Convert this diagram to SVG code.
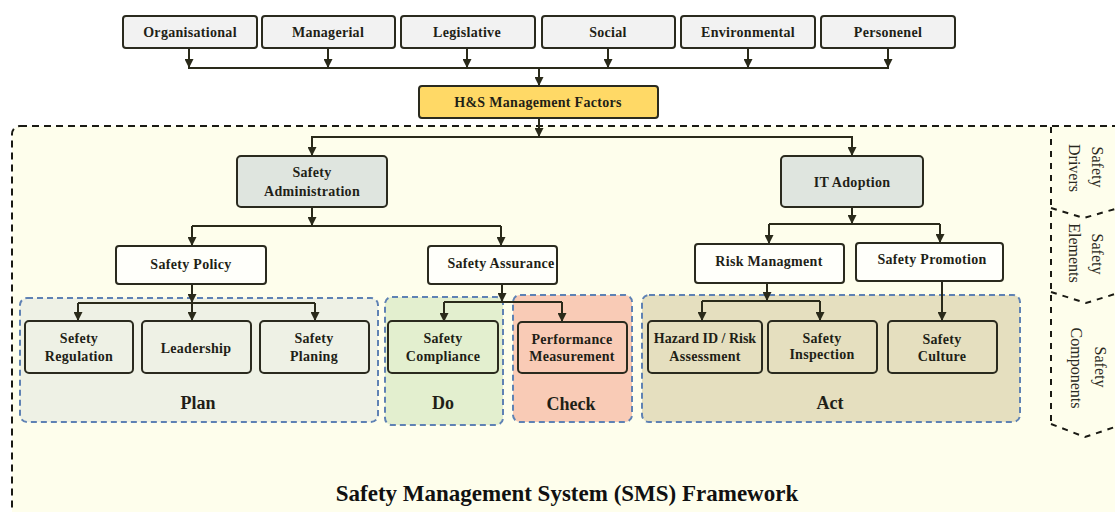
<svg xmlns="http://www.w3.org/2000/svg" width="1115" height="512" viewBox="0 0 1115 512">
  <style>
    .t { font-family: "Liberation Serif", "Times New Roman", serif; font-weight: bold; font-size: 14px; fill: #1f1f17; text-anchor: middle; letter-spacing: 0.3px; }
    .grp { font-family: "Liberation Serif", "Times New Roman", serif; font-weight: bold; font-size: 18px; fill: #1f1f17; text-anchor: middle; }
    .side { font-family: "Liberation Serif", "Times New Roman", serif; font-size: 16px; fill: #2a2a22; text-anchor: middle; }
    .title { font-family: "Liberation Serif", "Times New Roman", serif; font-weight: bold; font-size: 23px; fill: #111; text-anchor: middle; }
    .box { stroke: #2a2a1e; stroke-width: 2; }
    .factor { fill: #f2f2f2; }
    .gold { fill: #ffd966; }
    .grey { fill: #dfe5df; }
    .white { fill: #fffffa; }
    .plan { fill: #eef1e5; }
    .do { fill: #e3efcf; }
    .check { fill: #f9cbb6; }
    .act { fill: #e5dfbf; }
    .zone { stroke: #5f82b4; stroke-width: 2; stroke-dasharray: 6 4; }
    .frame { fill: #fefeec; stroke: #1a1a14; stroke-width: 2; stroke-dasharray: 7 5; }
    .sidel { fill: none; stroke: #1a1a14; stroke-width: 2; stroke-dasharray: 6 6; }
    .wire { fill: none; stroke: #2a2a1a; stroke-width: 2; }
    .arr { fill: none; stroke: #2a2a1a; stroke-width: 2; marker-end: url(#head); }
  </style>
  <defs>
    <marker id="head" viewBox="0 0 10 10" refX="10" refY="5" markerWidth="9" markerHeight="9" markerUnits="userSpaceOnUse" orient="auto">
      <path d="M0,0 L10,5 L0,10 z" fill="#2a2a1a"/>
    </marker>
  </defs>

  <rect width="1115" height="512" fill="#ffffff"/>

  <!-- SMS framework frame -->
  <rect class="frame" x="12" y="126" width="1200" height="500" rx="8"/>

  <!-- side band of chevrons -->
  <g id="side-band">
    <line class="sidel" x1="1051" y1="127" x2="1051" y2="424"/>
    <polyline class="sidel" points="1051,208 1084,218 1115,209"/>
    <polyline class="sidel" points="1051,292 1086,303 1115,294"/>
    <polyline class="sidel" points="1051,424 1085,437 1115,427"/>
    <text class="side" transform="translate(1092,167) rotate(90)">Safety</text>
    <text class="side" transform="translate(1069,168) rotate(90)">Drivers</text>
    <text class="side" transform="translate(1092,254) rotate(90)">Safety</text>
    <text class="side" transform="translate(1069,253) rotate(90)">Elements</text>
    <text class="side" transform="translate(1095,367) rotate(90)">Safety</text>
    <text class="side" transform="translate(1071,368) rotate(90)">Components</text>
  </g>

  <!-- PDCA zones -->
  <g id="zone-plan">
    <rect class="zone plan" x="20" y="298" width="358" height="124" rx="7"/>
    <text class="grp" x="198" y="409">Plan</text>
  </g>
  <g id="zone-do">
    <rect class="zone do" x="385" y="297" width="118" height="128" rx="7"/>
    <text class="grp" x="443" y="409">Do</text>
  </g>
  <g id="zone-check">
    <rect class="zone check" x="513" y="295" width="119" height="127" rx="7"/>
    <text class="grp" x="571" y="410">Check</text>
  </g>
  <g id="zone-act">
    <rect class="zone act" x="642" y="295" width="378" height="127" rx="7"/>
    <text class="grp" x="830" y="409">Act</text>
  </g>

  <!-- connectors -->
  <g id="connectors">
    <line class="arr" x1="189" y1="48" x2="189" y2="68"/>
    <line class="arr" x1="328" y1="48" x2="328" y2="68"/>
    <line class="arr" x1="467" y1="48" x2="467" y2="68"/>
    <line class="arr" x1="608" y1="48" x2="608" y2="68"/>
    <line class="arr" x1="748" y1="48" x2="748" y2="68"/>
    <line class="arr" x1="888" y1="48" x2="888" y2="68"/>
    <line class="wire" x1="188" y1="68" x2="889" y2="68"/>
    <line class="arr" x1="539" y1="68" x2="539" y2="86"/>

    <line class="arr" x1="539" y1="118" x2="539" y2="137"/>
    <polyline class="wire" points="312,156 312,137 852,137 852,156"/>
    <line class="arr" x1="312" y1="137" x2="312" y2="156"/>
    <line class="arr" x1="852" y1="137" x2="852" y2="156"/>

    <line class="arr" x1="312" y1="207" x2="312" y2="226"/>
    <line class="wire" x1="192" y1="226" x2="501" y2="226"/>
    <line class="arr" x1="192" y1="226" x2="192" y2="246"/>
    <line class="arr" x1="501" y1="226" x2="501" y2="246"/>

    <line class="arr" x1="852" y1="207" x2="852" y2="224"/>
    <line class="wire" x1="769" y1="224" x2="940" y2="224"/>
    <line class="arr" x1="769" y1="224" x2="769" y2="244"/>
    <line class="arr" x1="940" y1="224" x2="940" y2="243"/>

    <line class="arr" x1="192" y1="284" x2="192" y2="303"/>
    <line class="wire" x1="78" y1="303" x2="315" y2="303"/>
    <line class="arr" x1="78" y1="303" x2="78" y2="321"/>
    <line class="arr" x1="192" y1="303" x2="192" y2="321"/>
    <line class="arr" x1="315" y1="303" x2="315" y2="321"/>

    <line class="arr" x1="502" y1="284" x2="502" y2="302"/>
    <line class="wire" x1="444" y1="302" x2="562" y2="302"/>
    <line class="arr" x1="444" y1="302" x2="444" y2="322"/>
    <line class="arr" x1="562" y1="302" x2="562" y2="322"/>

    <line class="arr" x1="767" y1="283" x2="767" y2="301"/>
    <line class="wire" x1="702" y1="301" x2="820" y2="301"/>
    <line class="arr" x1="702" y1="301" x2="702" y2="321"/>
    <line class="arr" x1="820" y1="301" x2="820" y2="321"/>

    <line class="arr" x1="942" y1="281" x2="942" y2="321"/>
  </g>

  <!-- safety drivers -->
  <g id="n-organisational">
    <rect class="box factor" x="123" y="16" width="134" height="32" rx="3"/>
    <text class="t" x="190" y="37">Organisational</text>
  </g>
  <g id="n-managerial">
    <rect class="box factor" x="262" y="16" width="133" height="32" rx="3"/>
    <text class="t" x="328" y="37">Managerial</text>
  </g>
  <g id="n-legislative">
    <rect class="box factor" x="401" y="16" width="134" height="32" rx="3"/>
    <text class="t" x="467" y="37">Legislative</text>
  </g>
  <g id="n-social">
    <rect class="box factor" x="542" y="16" width="133" height="32" rx="3"/>
    <text class="t" x="608" y="37">Social</text>
  </g>
  <g id="n-environmental">
    <rect class="box factor" x="681" y="16" width="134" height="32" rx="3"/>
    <text class="t" x="748" y="37">Environmental</text>
  </g>
  <g id="n-personenel">
    <rect class="box factor" x="821" y="16" width="134" height="32" rx="3"/>
    <text class="t" x="888" y="37">Personenel</text>
  </g>

  <g id="n-hs-factors">
    <rect class="box gold" x="419" y="86" width="239" height="32" rx="3"/>
    <text class="t" x="538" y="107">H&amp;S Management Factors</text>
  </g>

  <!-- safety elements -->
  <g id="n-safety-administration">
    <rect class="box grey" x="237" y="156" width="150" height="51" rx="4"/>
    <text class="t" x="312" y="177">Safety</text>
    <text class="t" x="312" y="196">Administration</text>
  </g>
  <g id="n-it-adoption">
    <rect class="box grey" x="781" y="156" width="142" height="51" rx="4"/>
    <text class="t" x="852" y="187">IT Adoption</text>
  </g>
  <g id="n-safety-policy">
    <rect class="box white" x="116" y="246" width="150" height="38" rx="3"/>
    <text class="t" x="191" y="269">Safety Policy</text>
  </g>
  <g id="n-safety-assurance">
    <rect class="box white" x="428" y="246" width="129" height="38" rx="3"/>
    <text class="t" x="501" y="268">Safety Assurance</text>
  </g>
  <g id="n-risk-managment">
    <rect class="box white" x="695" y="244" width="149" height="39" rx="3"/>
    <text class="t" x="769" y="266">Risk Managment</text>
  </g>
  <g id="n-safety-promotion">
    <rect class="box white" x="856" y="243" width="147" height="38" rx="3"/>
    <text class="t" x="932" y="264">Safety Promotion</text>
  </g>

  <!-- safety components -->
  <g id="n-sefety-regulation">
    <rect class="box plan" x="25" y="321" width="108" height="52" rx="4"/>
    <text class="t" x="79" y="343">Sefety</text>
    <text class="t" x="79" y="361">Regulation</text>
  </g>
  <g id="n-leadership">
    <rect class="box plan" x="142" y="321" width="109" height="52" rx="4"/>
    <text class="t" x="196" y="353">Leadership</text>
  </g>
  <g id="n-safety-planing">
    <rect class="box plan" x="260" y="321" width="109" height="52" rx="4"/>
    <text class="t" x="314" y="343">Safety</text>
    <text class="t" x="314" y="361">Planing</text>
  </g>
  <g id="n-safety-compliance">
    <rect class="box do" x="388" y="321" width="110" height="52" rx="4"/>
    <text class="t" x="443" y="343">Safety</text>
    <text class="t" x="443" y="361">Compliance</text>
  </g>
  <g id="n-performance-measurement">
    <rect class="box check" x="518" y="322" width="109" height="51" rx="4"/>
    <text class="t" x="572" y="344">Performance</text>
    <text class="t" x="572" y="361">Measurement</text>
  </g>
  <g id="n-hazard-id">
    <rect class="box act" x="648" y="321" width="114" height="52" rx="4"/>
    <text class="t" x="705" y="343" style="letter-spacing:0">Hazard ID / Risk</text>
    <text class="t" x="705" y="361">Assessment</text>
  </g>
  <g id="n-safety-inspection">
    <rect class="box act" x="768" y="321" width="109" height="52" rx="4"/>
    <text class="t" x="822" y="343">Safety</text>
    <text class="t" x="822" y="359">Inspection</text>
  </g>
  <g id="n-safety-culture">
    <rect class="box act" x="888" y="321" width="109" height="52" rx="4"/>
    <text class="t" x="942" y="344">Safety</text>
    <text class="t" x="942" y="361">Culture</text>
  </g>

  <text class="title" x="567" y="501">Safety Management System (SMS) Framework</text>
</svg>
